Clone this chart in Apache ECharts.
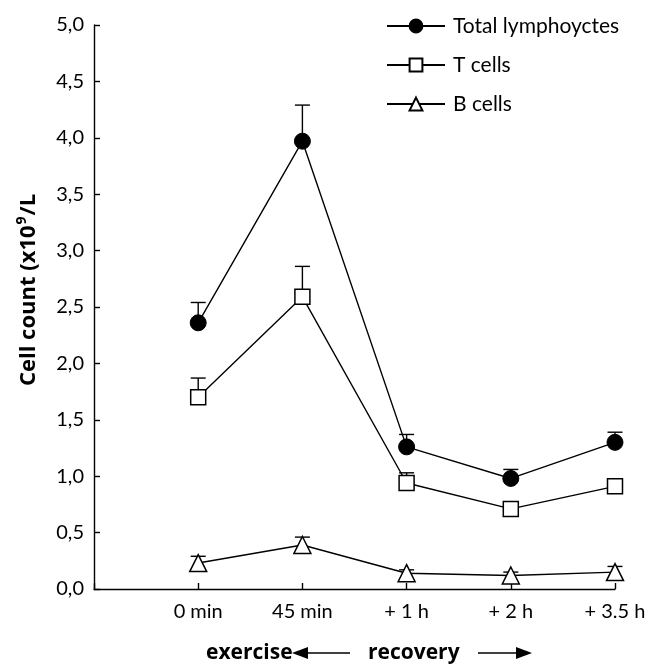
<!DOCTYPE html>
<html>
<head>
<meta charset="utf-8">
<script src="https://cdn.jsdelivr.net/npm/echarts@6/dist/echarts.min.js"></script>
<style>
  html, body { margin: 0; padding: 0; background: #fff; }
  #chart { width: 660px; height: 664px; }
</style>
</head>
<body>
<div id="chart"></div>
<script>
// time points (x = 1..5 on a value axis, 0 is the y axis)
var categories = ['0 min', '45 min', '+ 1 h', '+ 2 h', '+ 3.5 h'];
var yTicks = ['0,0', '0,5', '1,0', '1,5', '2,0', '2,5', '3,0', '3,5', '4,0', '4,5', '5,0'];

var totalMean = [2.36, 3.97, 1.26, 0.98, 1.30];
var totalUpper = [2.54, 4.29, 1.37, 1.06, 1.39];
var tMean = [1.70, 2.59, 0.94, 0.71, 0.91];
var tUpper = [1.87, 2.86, 1.03, 0.71, 0.95];
var bMean = [0.23, 0.39, 0.14, 0.12, 0.15];
var bUpper = [0.29, 0.46, 0.17, 0.15, 0.20];

var FONT = 'Lato';
var BOLD = '"Open Sans", Lato';

function pts(arr) {
  return arr.map(function (v, i) { return [i + 1, v]; });
}
function errPts(mean, upper) {
  return mean.map(function (v, i) { return [i + 1, v, upper[i]]; });
}

// upper-only error bar with a cap
function errorBar(params, api) {
  var x = api.value(0);
  var lo = api.coord([x, api.value(1)]);
  var hi = api.coord([x, api.value(2)]);
  if (Math.abs(lo[1] - hi[1]) < 1) return null;
  var cap = 7.5;
  var style = { stroke: '#000', lineWidth: 1.4 };
  return {
    type: 'group',
    children: [
      { type: 'line', shape: { x1: hi[0], y1: lo[1], x2: hi[0], y2: hi[1] }, style: style },
      { type: 'line', shape: { x1: hi[0] - cap, y1: hi[1], x2: hi[0] + cap, y2: hi[1] }, style: style }
    ]
  };
}

var chart = echarts.init(document.getElementById('chart'));

var lineStyle = { color: '#000', width: 1.4 };

var option = {
  animation: false,
  backgroundColor: '#fff',
  textStyle: { fontFamily: FONT, color: '#000' },
  grid: { left: 94, right: 45, top: 25, bottom: 75 },
  legend: {
    orient: 'vertical',
    left: 381,
    top: 10,
    itemWidth: 58,
    itemHeight: 16,
    itemGap: 17,
    data: ['Total lymphoyctes', 'T cells', 'B cells'],
    textStyle: { fontFamily: FONT, fontSize: 21, lineHeight: 22, color: '#000', padding: [0, 0, 0, 3] }
  },
  xAxis: {
    type: 'value',
    min: 0,
    max: 5,
    interval: 1,
    axisLine: { lineStyle: { color: '#000', width: 1.4 } },
    axisTick: { inside: true, length: 6, lineStyle: { color: '#000', width: 1.4 } },
    splitLine: { show: false },
    axisLabel: {
      fontFamily: FONT,
      fontSize: 20,
      color: '#000',
      margin: 13,
      formatter: function (v) { return v >= 1 ? categories[v - 1] : ''; }
    }
  },
  yAxis: {
    type: 'value',
    min: 0,
    max: 5,
    interval: 0.5,
    axisLine: { show: true, lineStyle: { color: '#000', width: 1.4 } },
    axisTick: { show: true, inside: true, length: 6, lineStyle: { color: '#000', width: 1.4 } },
    splitLine: { show: false },
    axisLabel: {
      fontFamily: FONT,
      fontSize: 20,
      color: '#000',
      margin: 10,
      formatter: function (v) { return yTicks[Math.round(v * 2)]; }
    }
  },
  series: [
    {
      name: 'T cells error',
      type: 'custom',
      renderItem: errorBar,
      data: errPts(tMean, tUpper),
      encode: { x: 0, y: [1, 2] },
      z: 1
    },
    {
      name: 'Total error',
      type: 'custom',
      renderItem: errorBar,
      data: errPts(totalMean, totalUpper),
      encode: { x: 0, y: [1, 2] },
      z: 1
    },
    {
      name: 'B error',
      type: 'custom',
      renderItem: errorBar,
      data: errPts(bMean, bUpper),
      encode: { x: 0, y: [1, 2] },
      z: 1
    },
    {
      name: 'Total lymphoyctes',
      type: 'line',
      data: pts(totalMean),
      symbol: 'circle',
      symbolSize: 16,
      lineStyle: lineStyle,
      itemStyle: { color: '#000', borderColor: '#000', borderWidth: 1 },
      z: 3
    },
    {
      name: 'T cells',
      type: 'line',
      data: pts(tMean),
      symbol: 'rect',
      symbolSize: 15,
      lineStyle: lineStyle,
      itemStyle: { color: '#fff', borderColor: '#000', borderWidth: 1.5 },
      z: 3
    },
    {
      name: 'B cells',
      type: 'line',
      data: pts(bMean),
      symbol: 'triangle',
      symbolSize: 17,
      lineStyle: lineStyle,
      itemStyle: { color: '#fff', borderColor: '#000', borderWidth: 1.5 },
      z: 3
    }
  ],
  graphic: [
    {
      // y axis title, with superscript 9
      type: 'text',
      x: 29,
      y: 290,
      rotation: Math.PI / 2,
      style: {
        text: '{b|Cell count (x10}{s|9}{b|/L}',
        align: 'center',
        verticalAlign: 'middle',
        rich: {
          b: { font: 'bold 22px ' + BOLD, fill: '#000', lineHeight: 28 },
          s: { font: 'bold 14px ' + BOLD, fill: '#000', lineHeight: 28, verticalAlign: 'top', padding: [0, 1, 6, 1] }
        }
      }
    },
    {
      type: 'text', x: 206, y: 653,
      style: { text: 'exercise', font: 'bold 21px ' + BOLD, fill: '#000', verticalAlign: 'middle' }
    },
    {
      type: 'polyline',
      shape: { points: [[302, 653], [350, 653]] },
      style: { stroke: '#000', lineWidth: 1.6 }
    },
    {
      type: 'polygon',
      shape: { points: [[292, 653], [308, 647], [308, 659]] },
      style: { fill: '#000' }
    },
    {
      type: 'text', x: 368, y: 653,
      style: { text: 'recovery', font: 'bold 21px ' + BOLD, fill: '#000', verticalAlign: 'middle' }
    },
    {
      type: 'polyline',
      shape: { points: [[478, 653], [522, 653]] },
      style: { stroke: '#000', lineWidth: 1.6 }
    },
    {
      type: 'polygon',
      shape: { points: [[532, 653], [516, 647], [516, 659]] },
      style: { fill: '#000' }
    }
  ]
};

chart.setOption(option);
</script>
</body>
</html>
